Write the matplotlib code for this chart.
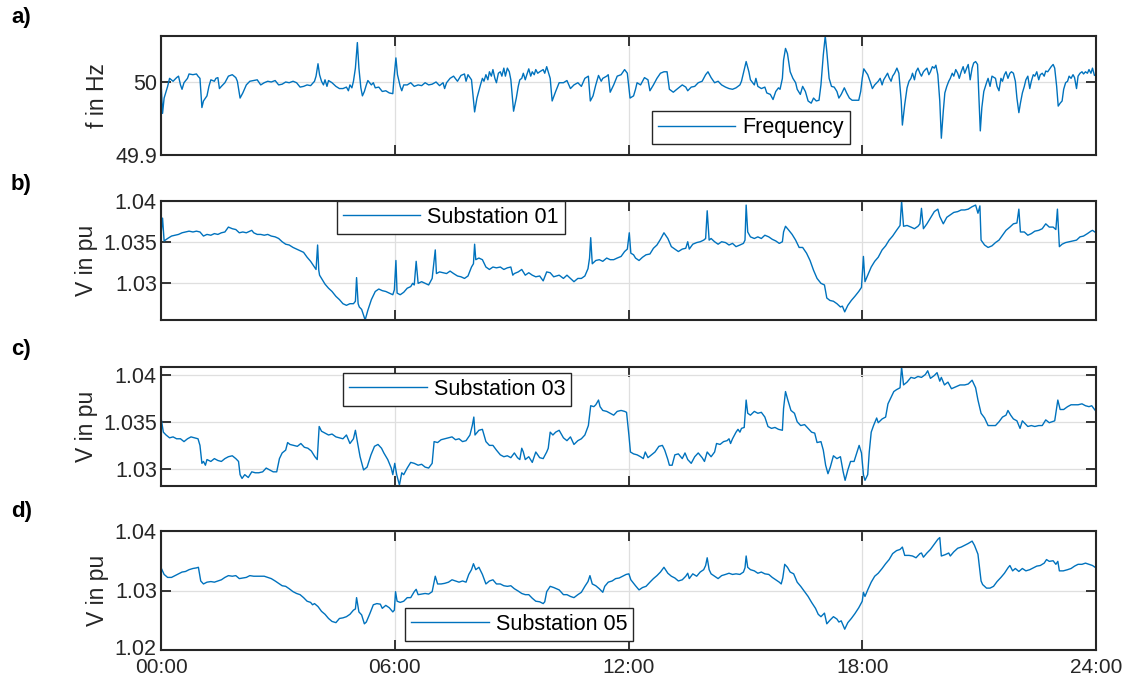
import matplotlib
matplotlib.use("Agg")
import matplotlib.pyplot as plt
from matplotlib.transforms import ScaledTranslation

# ---------------- data (time in hours) ----------------
freq_t = [0.01,0.04,0.08,0.17,0.22,0.31,0.40,0.45,0.50,0.54,0.59,0.68,0.72,0.82,0.91,0.95,1.00,1.05,1.09,1.18,
          1.23,1.28,1.37,1.41,1.46,1.50,1.55,1.64,1.73,1.83,1.92,1.96,2.03,2.10,2.19,2.28,2.38,2.47,2.56,2.65,
          2.74,2.83,2.93,3.02,3.11,3.20,3.29,3.39,3.48,3.57,3.66,3.75,3.84,3.94,3.98,4.03,4.07,4.12,4.17,4.21,
          4.26,4.30,4.39,4.49,4.58,4.67,4.76,4.81,4.85,4.90,4.94,4.99,5.04,5.08,5.13,5.17,5.22,5.27,5.31,5.40,
          5.45,5.50,5.59,5.68,5.77,5.86,5.95,5.98,6.03,6.07,6.14,6.18,6.23,6.32,6.41,6.50,6.60,6.69,6.78,6.87,
          6.96,7.06,7.15,7.24,7.28,7.33,7.42,7.51,7.61,7.70,7.79,7.83,7.88,7.93,7.97,8.05,8.11,8.20,8.25,8.29,
          8.34,8.39,8.43,8.48,8.52,8.57,8.61,8.66,8.71,8.75,8.80,8.84,8.89,8.94,8.98,9.05,9.12,9.17,9.21,9.26,
          9.30,9.35,9.39,9.44,9.49,9.53,9.58,9.62,9.67,9.72,9.81,9.85,9.90,9.94,9.99,10.04,10.13,10.22,
          10.33,10.42,10.51,10.60,10.70,10.79,10.88,10.97,11.02,11.09,11.16,11.23,11.30,11.34,11.44,11.48,11.53,
          11.62,11.71,11.81,11.90,11.97,12.01,12.04,12.13,12.18,12.22,12.31,12.41,12.50,12.55,12.64,12.73,12.82,
          12.91,12.99,13.05,13.15,13.24,13.38,13.47,13.52,13.61,13.70,13.79,13.89,13.98,14.04,14.12,14.21,14.30,
          14.39,14.49,14.58,14.67,14.76,14.86,14.90,14.97,15.02,15.09,15.13,15.23,15.27,15.32,15.41,15.50,15.55,
          15.64,15.71,15.78,15.85,15.89,15.95,15.98,16.03,16.08,16.15,16.22,16.29,16.33,16.41,16.47,16.54,16.61,
          16.69,16.75,16.82,16.89,16.94,17.00,17.05,17.09,17.15,17.21,17.28,17.35,17.40,17.46,17.54,17.60,17.67,
          17.74,17.81,17.91,17.96,18.00,18.04,18.14,18.20,18.26,18.32,18.41,18.46,18.51,18.55,18.65,18.69,18.74,
          18.78,18.83,18.89,18.94,19.00,19.03,19.09,19.15,19.20,19.25,19.29,19.34,19.38,19.43,19.48,19.52,19.57,
          19.62,19.66,19.71,19.75,19.80,19.85,19.89,19.94,19.99,20.03,20.08,20.12,20.17,20.22,20.26,20.31,20.35,
          20.40,20.45,20.49,20.54,20.59,20.63,20.68,20.72,20.77,20.82,20.86,20.91,20.96,21.00,21.03,21.07,21.12,
          21.19,21.23,21.28,21.33,21.42,21.46,21.51,21.56,21.60,21.65,21.69,21.74,21.79,21.83,21.88,21.93,21.97,
          22.02,22.06,22.11,22.16,22.20,22.25,22.30,22.34,22.39,22.43,22.48,22.53,22.57,22.62,22.67,22.71,22.76,
          22.80,22.85,22.90,22.94,22.99,23.03,23.08,23.13,23.17,23.22,23.27,23.31,23.36,23.41,23.45,23.50,23.54,
          23.59,23.64,23.68,23.73,23.78,23.82,23.87,23.91,23.96,24.00]
freq_v = [49.990,49.957,49.978,49.994,50.005,50.001,50.006,50.008,49.996,49.990,49.999,50.005,50.011,50.010,50.011,50.008,50.005,49.965,49.974,49.981,
          49.994,50.003,50.001,50.005,50.006,49.991,49.994,49.999,50.008,50.010,50.006,50.001,49.978,49.985,49.996,50.001,50.002,50.003,49.996,49.999,
          50.001,50.000,50.002,49.996,49.997,50.000,49.999,50.001,49.999,49.993,49.994,49.996,49.995,50.001,50.008,50.025,50.010,50.001,49.996,50.003,
          49.994,50.002,49.999,49.994,49.991,49.991,49.993,49.988,49.996,49.992,50.001,50.019,50.054,50.019,49.992,49.981,49.987,49.996,50.002,49.996,
          49.999,49.992,49.993,49.987,49.988,49.985,49.984,50.005,50.033,50.010,49.994,49.988,49.996,49.996,49.999,49.994,49.996,49.995,49.999,49.996,
          49.997,50.000,49.995,49.999,49.991,49.999,50.005,50.008,50.001,50.009,50.011,50.001,50.010,50.006,50.003,49.959,49.978,49.996,50.005,50.001,
          50.010,50.003,50.014,50.008,50.017,50.005,49.999,50.012,50.014,50.008,50.019,50.008,50.019,50.014,50.003,49.960,49.978,49.994,50.003,50.005,
          50.012,50.003,50.010,50.018,50.008,50.014,50.010,50.017,50.012,50.014,50.017,50.012,50.021,50.014,50.005,49.974,49.987,49.999,
          49.999,50.002,49.991,49.996,49.999,49.994,50.005,50.008,49.974,49.981,49.996,50.009,50.001,50.005,50.008,50.010,49.986,
          49.996,50.008,50.010,50.017,50.012,49.992,49.978,49.981,49.990,49.999,49.996,50.006,50.003,49.988,49.996,50.005,50.012,
          50.014,50.014,49.990,49.986,49.990,49.996,49.993,49.988,49.993,49.994,49.999,50.001,50.010,50.014,50.006,49.999,50.001,
          49.996,49.993,49.991,49.990,49.992,49.996,50.001,50.017,50.028,50.014,50.003,49.996,50.005,49.994,49.991,49.993,49.985,
          49.983,49.976,49.987,49.992,49.990,50.005,50.030,50.046,50.039,50.014,50.005,49.999,49.990,49.983,49.994,49.987,49.974,
          49.971,49.978,49.974,49.975,49.996,50.037,50.063,50.042,50.005,49.994,49.993,49.987,49.978,49.983,49.992,49.985,49.978,
          49.975,49.975,49.975,49.987,50.005,50.018,50.010,50.001,49.991,49.996,50.001,50.005,49.996,50.003,50.012,50.006,50.001,
          50.008,50.012,50.019,50.012,49.974,49.941,49.969,49.992,50.001,50.005,50.012,50.003,50.014,50.019,50.012,50.008,50.014,
          50.017,50.019,50.010,50.014,50.021,50.019,50.023,50.010,49.974,49.923,49.960,49.985,49.994,50.001,50.005,50.012,50.008,
          50.017,50.012,50.005,50.014,50.021,50.012,50.019,50.024,50.003,50.019,50.026,50.028,50.024,49.974,49.933,49.965,49.987,
          49.999,50.005,49.994,50.008,50.005,49.994,49.988,50.005,50.001,50.010,50.014,50.005,50.012,50.014,50.012,50.001,49.978,
          49.958,49.971,49.985,49.994,50.003,50.008,49.991,50.001,50.010,50.008,50.014,50.003,50.010,50.012,50.008,50.015,50.014,
          50.017,50.021,50.024,50.019,49.994,49.967,49.971,49.974,49.990,49.999,50.001,50.008,50.005,50.010,50.006,49.991,50.008,
          50.012,50.014,50.011,50.014,50.012,50.017,50.012,50.019,50.009,50.010]

sub01_t = [0.01,0.04,0.08,0.17,0.27,0.36,0.45,0.54,0.63,0.72,0.82,0.91,1.00,1.09,1.18,1.28,1.37,1.46,1.55,1.64,
           1.73,1.83,1.92,2.01,2.10,2.19,2.28,2.33,2.38,2.47,2.56,2.65,2.74,2.83,2.93,3.02,3.11,3.20,3.29,3.39,
           3.48,3.57,3.66,3.75,3.84,3.94,3.98,4.02,4.05,4.07,4.12,4.21,4.30,4.39,4.49,4.58,4.67,4.76,4.85,4.94,
           4.99,5.02,5.06,5.09,5.15,5.20,5.24,5.31,5.40,5.50,5.59,5.68,5.77,5.86,5.95,5.99,6.03,6.06,6.14,6.23,
           6.32,6.41,6.46,6.50,6.55,6.60,6.69,6.78,6.87,6.96,7.04,7.07,7.15,7.24,7.33,7.42,7.51,7.61,7.70,7.79,
           7.88,7.97,8.02,8.05,8.08,8.16,8.25,8.34,8.43,8.52,8.61,8.71,8.80,8.89,8.98,9.03,9.07,9.17,9.26,9.35,
           9.44,9.53,9.62,9.72,9.81,9.90,9.99,10.08,10.22,
           10.33,10.42,10.51,10.60,10.70,10.79,10.88,10.96,11.00,11.03,11.07,11.16,11.25,11.34,11.44,11.53,11.62,
           11.71,11.81,11.90,11.97,12.02,12.06,12.13,12.18,12.27,12.36,12.45,12.55,12.64,12.73,12.82,12.91,13.01,
           13.10,13.19,13.28,13.38,13.47,13.52,13.56,13.65,13.75,13.84,13.93,13.98,14.02,14.07,14.12,14.21,14.30,
           14.39,14.49,14.58,14.67,14.76,14.86,14.95,14.99,15.02,15.06,15.13,15.23,15.32,15.41,15.50,15.60,15.69,
           15.78,15.87,15.95,15.98,16.03,16.10,16.20,16.29,16.38,16.47,16.57,16.66,16.75,16.84,16.94,17.03,17.09,
           17.17,17.26,17.35,17.44,17.49,17.55,17.63,17.72,17.81,17.91,17.98,18.03,18.07,18.14,18.23,18.32,18.41,
           18.51,18.60,18.69,18.78,18.88,18.97,19.01,19.06,19.15,19.25,19.34,19.43,19.48,19.52,19.57,19.66,19.75,
           19.85,19.94,19.99,20.08,20.17,20.26,20.35,20.45,20.54,20.63,20.72,20.82,20.91,20.97,21.02,21.05,21.14,
           21.23,21.33,21.42,21.51,21.60,21.69,21.79,21.88,21.97,22.02,22.06,22.16,22.25,22.34,22.43,22.53,22.62,
           22.71,22.80,22.90,22.97,23.01,23.06,23.13,23.22,23.31,23.41,23.50,23.59,23.68,23.78,23.87,23.91,24.00]
sub01_v = [1.0364,1.0379,1.0351,1.0354,1.0357,1.0358,1.0359,1.0361,1.0362,1.0363,1.0362,1.0363,1.0362,1.0357,1.0359,1.0358,1.0360,1.0359,1.0361,1.0362,
           1.0368,1.0366,1.0365,1.0361,1.0362,1.0361,1.0363,1.0364,1.0361,1.0359,1.0359,1.0358,1.0359,1.0357,1.0356,1.0354,1.0350,1.0347,1.0346,1.0343,
           1.0341,1.0339,1.0337,1.0331,1.0326,1.0319,1.0316,1.0346,1.0315,1.0309,1.0305,1.0298,1.0293,1.0289,1.0283,1.0279,1.0274,1.0272,1.0274,1.0274,
           1.0277,1.0306,1.0274,1.0270,1.0267,1.0260,1.0254,1.0266,1.0279,1.0289,1.0292,1.0290,1.0289,1.0287,1.0285,1.0291,1.0327,1.0287,1.0285,1.0288,
           1.0293,1.0295,1.0299,1.0297,1.0326,1.0299,1.0301,1.0299,1.0297,1.0305,1.0340,1.0311,1.0313,1.0312,1.0311,1.0314,1.0311,1.0308,1.0307,1.0305,
           1.0308,1.0319,1.0323,1.0347,1.0328,1.0330,1.0328,1.0319,1.0316,1.0319,1.0318,1.0319,1.0316,1.0318,1.0319,1.0309,1.0311,1.0313,1.0316,1.0309,
           1.0312,1.0309,1.0307,1.0308,1.0302,1.0313,1.0312,1.0307,1.0309,
           1.0305,1.0309,1.0305,1.0301,1.0305,1.0305,1.0308,1.0317,1.0330,1.0355,1.0323,1.0327,1.0328,1.0326,1.0330,1.0328,1.0328,
           1.0330,1.0332,1.0338,1.0341,1.0361,1.0336,1.0334,1.0330,1.0327,1.0331,1.0334,1.0335,1.0342,1.0346,1.0353,1.0361,1.0354,
           1.0344,1.0341,1.0338,1.0341,1.0342,1.0350,1.0341,1.0347,1.0349,1.0350,1.0352,1.0354,1.0388,1.0352,1.0354,1.0350,1.0347,
           1.0350,1.0349,1.0346,1.0348,1.0344,1.0346,1.0348,1.0352,1.0395,1.0362,1.0356,1.0354,1.0356,1.0354,1.0358,1.0356,1.0353,
           1.0351,1.0348,1.0350,1.0362,1.0369,1.0365,1.0359,1.0352,1.0343,1.0343,1.0336,1.0327,1.0315,1.0305,1.0299,1.0297,1.0281,
           1.0278,1.0277,1.0274,1.0270,1.0271,1.0264,1.0272,1.0278,1.0283,1.0289,1.0294,1.0332,1.0301,1.0309,1.0319,1.0326,1.0331,
           1.0340,1.0345,1.0352,1.0357,1.0364,1.0370,1.0400,1.0369,1.0370,1.0368,1.0366,1.0369,1.0372,1.0391,1.0366,1.0372,1.0379,
           1.0387,1.0390,1.0381,1.0372,1.0380,1.0383,1.0386,1.0387,1.0389,1.0389,1.0390,1.0393,1.0395,1.0385,1.0394,1.0352,1.0346,
           1.0343,1.0345,1.0349,1.0352,1.0358,1.0364,1.0368,1.0372,1.0373,1.0390,1.0362,1.0362,1.0358,1.0360,1.0363,1.0364,1.0366,
           1.0372,1.0368,1.0368,1.0365,1.0390,1.0344,1.0347,1.0349,1.0350,1.0351,1.0352,1.0356,1.0357,1.0360,1.0363,1.0364,1.0361]

sub03_t = [0.01,0.06,0.13,0.22,0.31,0.40,0.50,0.59,0.68,0.77,0.86,0.95,1.00,1.05,1.09,1.14,1.18,1.28,1.37,1.46,
           1.55,1.64,1.73,1.83,1.92,1.99,2.03,2.08,2.15,2.24,2.33,2.42,2.51,2.61,2.70,2.79,2.88,2.97,3.04,3.11,
           3.20,3.25,3.31,3.40,3.50,3.59,3.68,3.77,3.86,3.95,4.01,4.06,4.12,4.21,4.30,4.39,4.49,4.58,4.67,4.76,
           4.85,4.94,4.99,5.04,5.11,5.20,5.29,5.39,5.48,5.57,5.66,5.72,5.82,5.91,5.95,6.00,6.05,6.12,6.18,6.23,
           6.32,6.41,6.50,6.60,6.69,6.78,6.87,6.96,7.01,7.10,7.19,7.28,7.38,7.47,7.56,7.65,7.74,7.83,7.93,7.99,
           8.03,8.06,8.16,8.25,8.34,8.43,8.52,8.61,8.71,8.80,8.89,8.98,9.07,9.15,9.21,9.26,9.30,9.35,9.44,9.53,
           9.62,9.72,9.81,9.90,9.94,9.99,10.06,10.13,10.22,
           10.33,10.42,10.51,10.60,10.70,10.79,10.88,10.97,11.03,11.11,11.16,11.23,11.27,11.34,11.44,11.53,11.62,
           11.71,11.81,11.90,11.95,12.01,12.05,12.13,12.22,12.31,12.38,12.43,12.50,12.59,12.68,12.78,12.87,12.93,
           13.01,13.05,13.12,13.19,13.28,13.38,13.45,13.52,13.61,13.70,13.79,13.89,13.95,14.02,14.12,14.21,14.26,
           14.35,14.44,14.53,14.58,14.62,14.67,14.76,14.81,14.86,14.90,14.97,15.02,15.06,15.13,15.23,15.32,15.41,
           15.50,15.58,15.67,15.76,15.85,15.95,15.98,16.03,16.09,16.17,16.26,16.33,16.42,16.52,16.61,16.70,16.78,
           16.84,16.94,17.00,17.06,17.12,17.18,17.26,17.35,17.44,17.51,17.56,17.63,17.70,17.79,17.86,17.92,17.98,
           18.03,18.07,18.14,18.18,18.23,18.29,18.37,18.41,18.51,18.60,18.66,18.74,18.81,18.88,18.97,19.01,19.06,
           19.15,19.25,19.34,19.43,19.52,19.62,19.68,19.75,19.85,19.92,19.99,20.03,20.11,20.20,20.29,20.40,20.51,
           20.63,20.72,20.82,20.91,20.97,21.05,21.14,21.23,21.33,21.42,21.51,21.60,21.69,21.74,21.81,21.88,21.97,
           22.05,22.11,22.18,22.25,22.34,22.43,22.53,22.62,22.71,22.80,22.94,23.02,23.08,23.17,23.27,23.36,23.45,
           23.54,23.64,23.73,23.82,23.89,24.00]
sub03_v = [1.0352,1.0339,1.0336,1.0333,1.0334,1.0332,1.0332,1.0329,1.0332,1.0334,1.0333,1.0332,1.0325,1.0306,1.0308,1.0304,1.0310,1.0308,1.0311,1.0309,
           1.0308,1.0311,1.0313,1.0314,1.0311,1.0308,1.0294,1.0290,1.0294,1.0291,1.0297,1.0296,1.0296,1.0297,1.0301,1.0299,1.0297,1.0297,1.0311,1.0317,
           1.0320,1.0328,1.0326,1.0325,1.0324,1.0327,1.0323,1.0322,1.0319,1.0313,1.0310,1.0345,1.0340,1.0338,1.0336,1.0337,1.0334,1.0333,1.0332,1.0336,
           1.0327,1.0332,1.0341,1.0329,1.0313,1.0299,1.0302,1.0315,1.0324,1.0326,1.0322,1.0317,1.0310,1.0301,1.0294,1.0306,1.0294,1.0283,1.0296,1.0294,
           1.0301,1.0307,1.0306,1.0304,1.0305,1.0302,1.0301,1.0306,1.0329,1.0328,1.0331,1.0332,1.0333,1.0334,1.0331,1.0332,1.0329,1.0330,1.0336,1.0346,
           1.0355,1.0336,1.0341,1.0342,1.0329,1.0325,1.0325,1.0320,1.0315,1.0313,1.0314,1.0312,1.0317,1.0312,1.0310,1.0322,1.0318,1.0310,1.0313,1.0307,
           1.0318,1.0312,1.0311,1.0318,1.0322,1.0339,1.0336,1.0339,1.0341,
           1.0333,1.0330,1.0334,1.0326,1.0330,1.0332,1.0336,1.0346,1.0367,1.0366,1.0368,1.0373,1.0366,1.0362,1.0361,1.0359,1.0357,
           1.0361,1.0362,1.0361,1.0360,1.0336,1.0318,1.0316,1.0315,1.0313,1.0311,1.0318,1.0312,1.0315,1.0318,1.0324,1.0325,1.0320,
           1.0310,1.0304,1.0304,1.0315,1.0316,1.0311,1.0317,1.0310,1.0306,1.0313,1.0317,1.0312,1.0308,1.0318,1.0313,1.0318,1.0327,
           1.0326,1.0329,1.0330,1.0332,1.0327,1.0332,1.0339,1.0342,1.0339,1.0343,1.0344,1.0373,1.0359,1.0357,1.0361,1.0359,1.0360,
           1.0355,1.0345,1.0343,1.0344,1.0342,1.0341,1.0364,1.0382,1.0373,1.0362,1.0359,1.0350,1.0346,1.0347,1.0343,1.0339,1.0338,
           1.0328,1.0329,1.0320,1.0304,1.0295,1.0302,1.0314,1.0311,1.0313,1.0297,1.0288,1.0299,1.0308,1.0308,1.0317,1.0325,1.0317,
           1.0294,1.0288,1.0294,1.0318,1.0339,1.0346,1.0354,1.0349,1.0353,1.0355,1.0369,1.0376,1.0382,1.0384,1.0386,1.0408,1.0389,
           1.0392,1.0397,1.0396,1.0398,1.0397,1.0400,1.0404,1.0396,1.0399,1.0402,1.0393,1.0397,1.0389,1.0392,1.0385,1.0387,1.0389,
           1.0389,1.0390,1.0394,1.0386,1.0373,1.0359,1.0354,1.0346,1.0346,1.0346,1.0350,1.0355,1.0357,1.0362,1.0357,1.0353,1.0351,
           1.0343,1.0351,1.0348,1.0345,1.0346,1.0345,1.0346,1.0346,1.0352,1.0349,1.0351,1.0373,1.0363,1.0363,1.0366,1.0368,1.0368,
           1.0368,1.0369,1.0367,1.0366,1.0367,1.0361]

sub05_t = [0.01,0.08,0.17,0.27,0.36,0.45,0.54,0.63,0.72,0.82,0.91,0.96,1.02,1.09,1.18,1.28,1.37,1.46,1.55,1.64,
           1.73,1.83,1.92,2.01,2.10,2.19,2.28,2.38,2.47,2.56,2.65,2.74,2.83,2.93,3.02,3.11,3.20,3.29,3.39,3.48,
           3.57,3.66,3.75,3.84,3.89,3.94,4.03,4.12,4.21,4.30,4.39,4.49,4.58,4.67,4.76,4.85,4.94,4.99,5.02,5.08,
           5.15,5.22,5.27,5.36,5.45,5.54,5.63,5.68,5.77,5.86,5.95,5.99,6.02,6.06,6.14,6.23,6.32,6.41,6.50,6.55,
           6.60,6.69,6.78,6.87,6.96,7.04,7.10,7.19,7.28,7.38,7.47,7.56,7.65,7.74,7.83,7.90,7.97,8.02,8.08,8.16,
           8.25,8.34,8.43,8.52,8.61,8.71,8.80,8.89,8.98,9.07,9.17,9.26,9.35,9.44,9.53,9.62,9.72,9.81,9.85,9.90,
           9.99,10.08,10.22,
           10.33,10.42,10.51,10.60,10.70,10.79,10.88,10.96,11.01,11.07,11.16,11.25,11.34,11.39,11.48,11.58,11.67,
           11.76,11.85,11.94,12.01,12.06,12.13,12.18,12.27,12.36,12.45,12.55,12.64,12.73,12.82,12.91,13.01,13.10,
           13.19,13.28,13.38,13.47,13.52,13.56,13.65,13.75,13.84,13.93,13.98,14.02,14.07,14.12,14.21,14.30,14.39,
           14.49,14.58,14.67,14.76,14.86,14.95,14.99,15.02,15.06,15.13,15.23,15.32,15.41,15.50,15.60,15.69,15.78,
           15.87,15.92,15.96,16.01,16.08,16.15,16.24,16.33,16.42,16.52,16.61,16.70,16.80,16.87,16.94,17.03,17.09,
           17.17,17.26,17.35,17.40,17.46,17.55,17.63,17.72,17.81,17.91,18.00,18.03,18.07,18.14,18.23,18.32,18.41,
           18.51,18.60,18.69,18.78,18.88,18.97,19.03,19.09,19.20,19.29,19.38,19.48,19.52,19.57,19.66,19.75,19.85,
           19.94,19.99,20.03,20.12,20.22,20.26,20.35,20.45,20.54,20.63,20.72,20.82,20.88,20.97,21.05,21.09,21.19,
           21.28,21.37,21.46,21.56,21.65,21.74,21.79,21.86,21.93,22.02,22.11,22.20,22.30,22.39,22.48,22.57,22.67,
           22.73,22.80,22.90,22.97,23.02,23.06,23.16,23.27,23.36,23.45,23.54,23.64,23.73,23.82,23.91,24.00]
sub05_v = [1.0337,1.0327,1.0322,1.0322,1.0325,1.0328,1.0331,1.0332,1.0335,1.0337,1.0338,1.0339,1.0316,1.0311,1.0314,1.0315,1.0314,1.0316,1.0318,1.0322,
           1.0325,1.0324,1.0325,1.0320,1.0321,1.0322,1.0325,1.0324,1.0324,1.0324,1.0324,1.0322,1.0320,1.0316,1.0312,1.0308,1.0307,1.0303,1.0298,1.0295,
           1.0293,1.0288,1.0282,1.0280,1.0276,1.0278,1.0273,1.0265,1.0260,1.0253,1.0248,1.0246,1.0253,1.0254,1.0256,1.0260,1.0267,1.0269,1.0288,1.0264,
           1.0259,1.0244,1.0247,1.0261,1.0276,1.0278,1.0277,1.0270,1.0275,1.0271,1.0264,1.0267,1.0298,1.0282,1.0280,1.0282,1.0288,1.0288,1.0298,1.0302,
           1.0293,1.0294,1.0295,1.0294,1.0298,1.0324,1.0311,1.0311,1.0312,1.0314,1.0318,1.0316,1.0314,1.0316,1.0314,1.0327,1.0335,1.0345,1.0335,1.0339,
           1.0327,1.0311,1.0316,1.0318,1.0311,1.0311,1.0308,1.0307,1.0308,1.0303,1.0299,1.0295,1.0293,1.0293,1.0287,1.0282,1.0281,1.0278,1.0281,1.0298,
           1.0307,1.0305,1.0301,
           1.0293,1.0293,1.0290,1.0288,1.0293,1.0297,1.0307,1.0315,1.0325,1.0311,1.0308,1.0303,1.0297,1.0307,1.0314,1.0316,1.0320,
           1.0321,1.0324,1.0327,1.0328,1.0318,1.0312,1.0308,1.0301,1.0305,1.0307,1.0314,1.0320,1.0325,1.0331,1.0339,1.0329,1.0324,
           1.0321,1.0316,1.0318,1.0324,1.0329,1.0320,1.0328,1.0324,1.0331,1.0335,1.0342,1.0355,1.0335,1.0328,1.0324,1.0320,1.0325,
           1.0327,1.0329,1.0327,1.0328,1.0327,1.0331,1.0338,1.0358,1.0339,1.0335,1.0333,1.0329,1.0331,1.0328,1.0327,1.0322,1.0318,
           1.0314,1.0311,1.0321,1.0344,1.0339,1.0331,1.0328,1.0314,1.0307,1.0298,1.0290,1.0280,1.0270,1.0260,1.0256,1.0262,1.0244,
           1.0250,1.0256,1.0252,1.0247,1.0249,1.0235,1.0246,1.0253,1.0261,1.0271,1.0282,1.0297,1.0290,1.0301,1.0314,1.0324,1.0329,
           1.0337,1.0345,1.0352,1.0362,1.0367,1.0369,1.0373,1.0359,1.0359,1.0358,1.0355,1.0362,1.0363,1.0356,1.0363,1.0369,1.0378,
           1.0386,1.0389,1.0358,1.0360,1.0363,1.0358,1.0365,1.0371,1.0373,1.0376,1.0379,1.0383,1.0376,1.0361,1.0316,1.0310,1.0304,
           1.0304,1.0307,1.0315,1.0322,1.0329,1.0338,1.0342,1.0333,1.0337,1.0332,1.0337,1.0333,1.0335,1.0338,1.0341,1.0342,1.0346,
           1.0352,1.0349,1.0350,1.0344,1.0349,1.0333,1.0333,1.0335,1.0337,1.0341,1.0344,1.0344,1.0346,1.0344,1.0342,1.0338]

series_t = [freq_t, sub01_t, sub03_t, sub05_t]
series_v = [freq_v, sub01_v, sub03_v, sub05_v]
legend_names = ["Frequency", "Substation 01", "Substation 03", "Substation 05"]
y_labels = ["f in Hz", "V in pu", "V in pu", "V in pu"]
panel_tags = ["a)", "b)", "c)", "d)"]
y_limits = [(49.9, 50.063), (1.0254, 1.0400), (1.0282, 1.0408), (1.02, 1.04)]
y_ticks = [[49.9, 50.0], [1.03, 1.035, 1.04], [1.03, 1.035, 1.04], [1.02, 1.03, 1.04]]
y_ticklabels = [["49.9", "50"], ["1.03", "1.035", "1.04"], ["1.03", "1.035", "1.04"], ["1.02", "1.03", "1.04"]]
x_ticks = [0, 6, 12, 18, 24]
x_ticklabels = ["00:00", "06:00", "12:00", "18:00", "24:00"]

# ---------------- style / layout ----------------
plt.rcParams["font.family"] = ["Liberation Sans", "DejaVu Sans"]
LINE_C = "#0072BD"
DARK = "#262626"
FW, FH = 1125, 679

fig = plt.figure(figsize=(FW / 100, FH / 100), dpi=100)
ax_left, ax_w = 161 / FW, 935 / FW
ax_h = 119 / FH
ax_bottoms = [1 - 155 / FH, 1 - 320 / FH, 1 - 486 / FH, 1 - 650 / FH]
legend_anchor = [(0.525, 0.367), (0.188, 1.0), (0.195, 0.95), (0.261, 0.353)]
ylabel_x = [-0.068, -0.080, -0.080, -0.068]
tag_y = [18, 185, 350, 511]

for i in range(4):
    ax = fig.add_axes([ax_left, ax_bottoms[i], ax_w, ax_h])
    ax.plot(series_t[i], series_v[i], color=LINE_C, lw=1.0, label=legend_names[i])
    ax.set_xlim(0, 24)
    ax.set_ylim(*y_limits[i])
    ax.set_xticks(x_ticks)
    ax.set_yticks(y_ticks[i])
    ax.set_yticklabels(y_ticklabels[i])
    if i == 3:
        ax.set_xticklabels(x_ticklabels)
    else:
        ax.set_xticklabels([])
    ax.grid(True, color="#dfdfdf", lw=0.9)
    ax.set_axisbelow(True)
    for s in ax.spines.values():
        s.set_color(DARK)
        s.set_linewidth(1.5)
    ax.tick_params(direction="in", length=7, width=1.3, top=True, right=True,
                   labelsize=15.5, colors=DARK, pad=3)
    ax.tick_params(axis="x", pad=6, labelsize=15)
    if i == 3:
        # lift the lowest y tick label slightly so it clears the first time label
        lbl = ax.yaxis.get_major_ticks()[0].label1
        lbl.set_transform(lbl.get_transform() + ScaledTranslation(0, 3 / 100, fig.dpi_scale_trans))
    ax.set_ylabel(y_labels[i], fontsize=16.5, color=DARK)
    ax.yaxis.label.set_va("center")
    ax.yaxis.set_label_coords(ylabel_x[i], 0.5)
    leg = ax.legend(loc="upper left", bbox_to_anchor=legend_anchor[i], borderaxespad=0,
                    fancybox=False, framealpha=1, edgecolor=DARK, fontsize=15.5,
                    handlelength=3.6, handletextpad=0.33, borderpad=0.28)
    leg.get_frame().set_linewidth(1.0)
    fig.text(11 / FW, 1 - tag_y[i] / FH, panel_tags[i], fontsize=16, fontweight="bold",
             va="center", ha="left", color="black")

fig.savefig("out.png", dpi=100)
